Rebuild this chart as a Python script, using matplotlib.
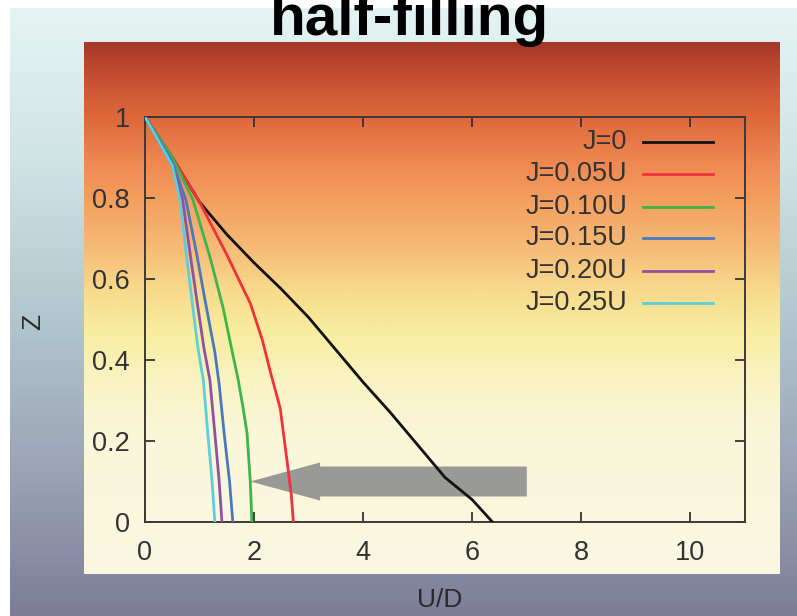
import numpy as np
import matplotlib
matplotlib.use("Agg")
import matplotlib.pyplot as plt
from matplotlib.colors import LinearSegmentedColormap
from matplotlib.patches import FancyArrow

plt.rcParams['font.family'] = ['Liberation Sans', 'DejaVu Sans']

# ---------------- data ----------------
labels = ["J=0", "J=0.05U", "J=0.10U", "J=0.15U", "J=0.20U", "J=0.25U"]
colors = ["#111111", "#f0323a", "#3db54a", "#4a78bf", "#8e52a1", "#5ccfdc"]

x_J000 = [0.0, 0.5, 1.0, 1.5, 2.0, 2.5, 3.0, 3.5, 4.0, 4.5, 5.0, 5.5, 6.0, 6.37]
z_J000 = [1.0, 0.90, 0.79, 0.71, 0.64, 0.575, 0.505, 0.425, 0.345, 0.27, 0.19, 0.11, 0.055, 0.0]

x_J005 = [0.0, 0.5, 1.0, 1.5, 1.93, 2.15, 2.3, 2.48, 2.6, 2.68, 2.72]
z_J005 = [1.0, 0.90, 0.79, 0.66, 0.54, 0.45, 0.37, 0.28, 0.155, 0.07, 0.0]

x_J010 = [0.0, 0.5, 0.88, 1.2, 1.43, 1.6, 1.71, 1.8, 1.87, 1.93, 1.96]
z_J010 = [1.0, 0.90, 0.795, 0.65, 0.53, 0.42, 0.35, 0.28, 0.22, 0.10, 0.0]

x_J015 = [0.0, 0.5, 0.75, 0.95, 1.10, 1.28, 1.36, 1.45, 1.55, 1.61]
z_J015 = [1.0, 0.89, 0.795, 0.66, 0.548, 0.42, 0.34, 0.22, 0.10, 0.0]

x_J020 = [0.0, 0.5, 0.69, 0.83, 0.95, 1.08, 1.19, 1.28, 1.36, 1.41]
z_J020 = [1.0, 0.88, 0.795, 0.66, 0.548, 0.43, 0.35, 0.22, 0.10, 0.0]

x_J025 = [0.0, 0.5, 0.64, 0.75, 0.86, 0.97, 1.07, 1.15, 1.23, 1.28]
z_J025 = [1.0, 0.88, 0.795, 0.67, 0.548, 0.43, 0.35, 0.22, 0.10, 0.0]

series_x = [x_J000, x_J005, x_J010, x_J015, x_J020, x_J025]
series_z = [z_J000, z_J005, z_J010, z_J015, z_J020, z_J025]

x_ticks = [0, 2, 4, 6, 8, 10]
y_ticks = [0, 0.2, 0.4, 0.6, 0.8, 1]
y_ticklabels = ["0", "0.2", "0.4", "0.6", "0.8", "1"]

# annotation arrow (data coords): tail x, tip x, y
arrow_tail_x, arrow_tip_x, arrow_y = 7.0, 1.93, 0.1

# ---------------- figure ----------------
W, H = 797, 616
fig = plt.figure(figsize=(W / 100, H / 100), dpi=100, facecolor="white")

def px_rect(x0, y0, x1, y1):
    return [x0 / W, 1 - y1 / H, (x1 - x0) / W, (y1 - y0) / H]

# outer gradient panel
outer_cmap = LinearSegmentedColormap.from_list("outer", [
    (0.0, "#e4f4f3"), (0.25, "#cfe4e5"), (0.5, "#b2c8ce"),
    (0.75, "#9ca5b8"), (1.0, "#7d7d98")])
bg1 = fig.add_axes(px_rect(10, 8, 797, 616), zorder=0)
bg1.imshow(np.linspace(0, 1, 256).reshape(-1, 1), aspect="auto", cmap=outer_cmap,
           extent=[0, 1, 0, 1])
bg1.axis("off")

# inner warm gradient panel
inner_cmap = LinearSegmentedColormap.from_list("inner", [
    (0.0, "#a53828"), (0.034, "#b8442f"), (0.09, "#cf5834"), (0.14, "#de683a"),
    (0.22, "#ee8650"), (0.30, "#f4a060"), (0.39, "#f6bc78"), (0.46, "#f8d88a"),
    (0.54, "#f8ec9e"), (0.63, "#f9f3c0"), (0.73, "#faf6d8"), (1.0, "#fbf8e2")])
bg2 = fig.add_axes(px_rect(84, 42, 780, 574), zorder=1)
bg2.imshow(np.linspace(0, 1, 512).reshape(-1, 1), aspect="auto", cmap=inner_cmap,
           extent=[0, 1, 0, 1])
bg2.axis("off")

# main axes
ax = fig.add_axes(px_rect(145, 117, 745, 522), zorder=2)
ax.set_facecolor("none")

arrow = FancyArrow(arrow_tail_x, arrow_y, arrow_tip_x - arrow_tail_x, 0,
                   width=0.074, head_width=0.094, head_length=1.28,
                   length_includes_head=True, color="#8f8f8f", alpha=0.9,
                   linewidth=0, zorder=1.5)
ax.add_patch(arrow)

for xs, zs, c in zip(series_x, series_z, colors):
    ax.plot(xs, zs, color=c, lw=2.0, zorder=3, solid_joinstyle="round")

ax.set_xlim(0, 11)
ax.set_ylim(0, 1)
ax.set_xticks(x_ticks)
ax.set_yticks(y_ticks)
ax.set_yticklabels(y_ticklabels)
ax.tick_params(direction="in", length=7, width=1.3, top=True, right=True,
               labelsize=19.5, colors="#333333", pad=11)
ax.tick_params(axis="x", pad=13)
for s in ax.spines.values():
    s.set_color("#3a3a3a")
    s.set_linewidth(1.4)

# manual gnuplot-style legend (right-aligned text, sample line on the right)
ax_w, ax_h = 600.0, 405.0
row_y_px = [142, 174, 207, 238, 271, 303]
for lab, c, ypx in zip(labels, colors, row_y_px):
    ya = (522 - ypx) / ax_h
    ax.text((627 - 145) / ax_w, ya, lab, transform=ax.transAxes, ha="right",
            va="center", fontsize=19.5, color="#333333")
    ax.plot([(643 - 145) / ax_w, (713 - 145) / ax_w], [ya, ya], transform=ax.transAxes,
            color=c, lw=2.0, clip_on=False)

# labels
fig.text(33 / W, 1 - 322 / H, "Z", rotation=90, ha="center", va="center",
         fontsize=19, color="#2a2a2a", zorder=5)
fig.text(440 / W, 1 - 600 / H, "U/D", ha="center", va="center",
         fontsize=19, color="#2a2a2a", zorder=5)
fig.text(409 / W, 1 - 35 / H, "half-filling", ha="center", va="baseline",
         fontsize=42, fontweight="bold", color="black", zorder=5)

fig.savefig("out.png", dpi=100, facecolor="white")
